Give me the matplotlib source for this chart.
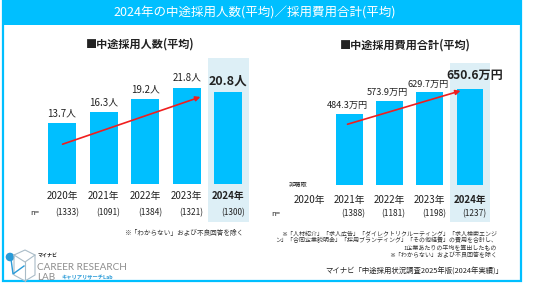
import matplotlib.pyplot as plt
from matplotlib.patches import Rectangle, Circle

plt.rcParams['font.family'] = ['Noto Sans CJK JP', 'DejaVu Sans']

# データ
years = ['2020年', '2021年', '2022年', '2023年', '2024年']
hires = [13.7, 16.3, 19.2, 21.8, 20.8]
hires_n = ['(1333)', '(1091)', '(1384)', '(1321)', '(1300)']
cost_years = ['2020年', '2021年', '2022年', '2023年', '2024年']
cost = [None, 484.3, 573.9, 629.7, 650.6]
cost_n = ['', '(1388)', '(1181)', '(1198)', '(1237)']

CYAN = '#00BFFF'
HL = '#DDEFF6'
TXT = '#222222'
W, H = 536, 284

fig = plt.figure(figsize=(W / 100, H / 100), dpi=100)
fig.patch.set_facecolor('white')

# 全体の枠とタイトル帯(ピクセル座標)
bg = fig.add_axes([0, 0, 1, 1])
bg.set_xlim(0, W)
bg.set_ylim(H, 0)
bg.axis('off')
bg.add_patch(Rectangle((2.5, 1), 518, 280, fill=False, ec=CYAN, lw=1.6))
bg.add_patch(Rectangle((2.5, 1), 518, 23.5, fc=CYAN, ec='none'))
bg.text(255, 13, '2024年の中途採用人数(平均)／採用費用合計(平均)', color='white',
        fontsize=9, ha='center', va='center')


def px_axes(left, top, width, height):
    return fig.add_axes([left / W, 1 - (top + height) / H, width / W, height / H])


# 左:中途採用人数
ax1 = px_axes(41.2, 58, 208, 164)
ax1.set_xlim(-0.5, 4.5)
ax1.set_ylim(-(222 - 184) / 4.42, (184 - 58) / 4.42)
ax1.axis('off')
ax1.axvspan(3.5, 4.5, color=HL, lw=0, zorder=0)
ax1.bar(range(len(hires)), hires, width=0.67, color=CYAN, zorder=2)
for i, (y, v, n) in enumerate(zip(years, hires, hires_n)):
    last = i == len(hires) - 1
    ax1.annotate(f'{v}人', (i, v), xytext=(0, 3 if last else 3.5), textcoords='offset points',
                 ha='center', va='bottom', fontsize=9 if last else 7,
                 fontweight='bold' if last else 'normal', color=TXT)
    ax1.annotate(y, (i, 0), xytext=(0, -8.6), textcoords='offset points', ha='center',
                 va='center', fontsize=7, fontweight='bold' if last else 'normal', color=TXT)
    ax1.annotate(n, (i, 0), xytext=(3.5, -21), textcoords='offset points', ha='center',
                 va='center', fontsize=6, color=TXT)
ax1.annotate('', xy=(3.39, 19.9), xytext=(-0.05, 8.8),
             arrowprops=dict(arrowstyle='-|>', color='#F01E1E', lw=1.2, mutation_scale=7), zorder=3)
bg.text(140, 44, '■中途採用人数(平均)', fontsize=8, fontweight='bold', ha='center', va='center', color=TXT)
bg.text(35, 213, 'n=', fontsize=5.5, ha='center', va='center', color=TXT)
bg.text(243, 233, '※「わからない」および不良回答を除く', fontsize=4.8, ha='right', va='center', color='#333333')

# 右:中途採用費用合計
ax2 = px_axes(288.9, 63, 201.25, 159)
ax2.set_xlim(-0.5, 4.5)
ax2.set_ylim(-(222 - 185) / 0.147, (185 - 63) / 0.147)
ax2.axis('off')
ax2.axvspan(3.5, 4.5, color=HL, lw=0, zorder=0)
xs = [i for i, c in enumerate(cost) if c is not None]
ax2.bar(xs, [cost[i] for i in xs], width=0.66, color=CYAN, zorder=2)
for i, (y, c, n) in enumerate(zip(cost_years, cost, cost_n)):
    last = i == len(cost) - 1
    if c is not None:
        ax2.annotate(f'{c}万円', (i, c), xytext=(3.5, 5) if last else (-1.5, 2.5),
                     textcoords='offset points', ha='center', va='bottom',
                     fontsize=8.7 if last else 6.6,
                     fontweight='bold' if last else 'normal', color=TXT)
    else:
        ax2.annotate('非聴取', (i, 0), xytext=(-8, 0), textcoords='offset points', ha='center',
                     va='center', fontsize=4.5, color=TXT)
    ax2.annotate(y, (i, 0), xytext=(0, -11), textcoords='offset points', ha='center',
                 va='center', fontsize=7, fontweight='bold' if last else 'normal', color=TXT)
    ax2.annotate(n, (i, 0), xytext=(3, -21), textcoords='offset points', ha='center',
                 va='center', fontsize=6, color=TXT)
ax2.annotate('', xy=(3.83, 646), xytext=(0.89, 408),
             arrowprops=dict(arrowstyle='-|>', color='#F01E1E', lw=1.2, mutation_scale=7), zorder=3)
bg.text(405, 45, '■中途採用費用合計(平均)', fontsize=8, fontweight='bold', ha='center', va='center', color=TXT)
bg.text(276, 214, 'n=', fontsize=5.5, ha='center', va='center', color=TXT)

notes = ['※「人材紹介」「求人広告」「ダイレクトリクルーティング」「求人検索エンジ',
         'ン」「合同企業説明会」「採用ブランディング」「その他経費」の費用を合計し、',
         '1企業あたりの平均を算出したもの',
         '※「わからない」および不良回答を除く']
for k, line in enumerate(notes):
    bg.text(497, 233 + 7.3 * k, line, fontsize=4.3, ha='right', va='center', color='#333333')
bg.text(503, 272, 'マイナビ「中途採用状況調査2025年版(2024年実績)」', fontsize=5.3,
        ha='right', va='center', color=TXT)

# ロゴ
bg.plot([14, 25, 35, 35, 25, 14, 14], [255, 250, 255, 275, 281, 275, 255], color='#A9BCC8', lw=0.8)
bg.plot([14, 25, 35], [255, 262, 255], color='#A9BCC8', lw=0.8)
bg.plot([25, 25], [262, 281], color='#A9BCC8', lw=0.8)
bg.plot([11, 13, 24], [259, 274, 266], color='#2A9BD8', lw=1.0)
bg.add_patch(Circle((10, 257), 3.6, color='#2A9BD8'))
bg.text(38, 255, 'マイナビ', fontsize=3.6, fontweight='bold', va='center', color='#222222')
bg.text(37, 267, 'CAREER RESEARCH', fontsize=7.2, va='center', color='#8E8E8E',
        family=['Lato', 'DejaVu Sans'])
bg.text(37, 278, 'LAB', fontsize=7.2, va='center', color='#8E8E8E', family=['Lato', 'DejaVu Sans'])
bg.text(62, 278, 'キャリアリサーチLab', fontsize=3.8, fontweight='bold', va='center', color='#2A9BD8')

fig.savefig('out.png', dpi=100, facecolor='white')
